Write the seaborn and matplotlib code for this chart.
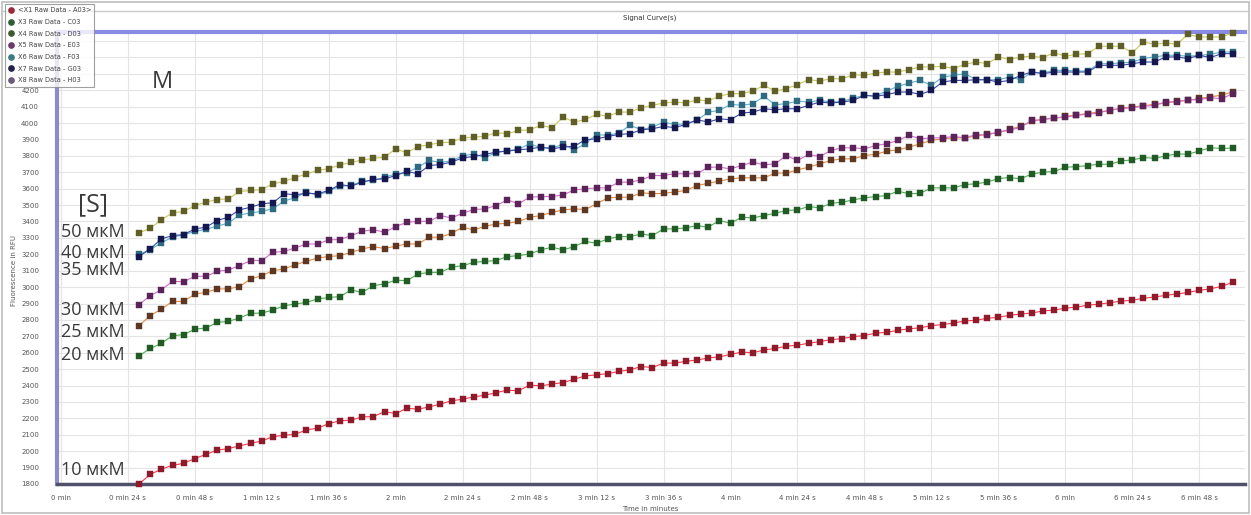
import numpy as np
import pandas as pd
import matplotlib
matplotlib.use("Agg")
import matplotlib.pyplot as plt
from matplotlib.lines import Line2D
from matplotlib.patches import Rectangle
import seaborn as sns

# ---------------- data (RFU, one reading every 4 s from 28 s) ----------------
start_s = 28
step_s = 4

conc_labels = ["10 мкМ", "20 мкМ", "25 мкМ", "30 мкМ", "35 мкМ", "40 мкМ", "50 мкМ"]
legend_labels = ["<X1 Raw Data - A03>", "X3 Raw Data - C03", "X4 Raw Data - D03",
                 "X5 Raw Data - E03", "X6 Raw Data - F03", "X7 Raw Data - G03",
                 "X8 Raw Data - H03"]

s10 = [1800, 1859, 1890, 1914, 1926, 1955, 1981, 2006, 2016, 2032, 2048, 2062, 2089, 2097, 2103, 2130,
       2140, 2168, 2185, 2189, 2209, 2211, 2241, 2229,
       2262, 2256, 2270, 2287, 2307, 2317, 2331, 2341, 2357, 2372, 2368, 2403, 2398, 2409, 2418, 2439,
       2459, 2465, 2473, 2486, 2496, 2516, 2510, 2537, 2537,
       2548, 2556, 2568, 2575, 2590, 2604, 2600, 2617, 2626, 2640,
       2646, 2658, 2668, 2680, 2686, 2698, 2705, 2720, 2724, 2737,
       2746, 2752, 2765, 2772, 2781, 2794, 2798, 2810, 2816, 2828,
       2836, 2842, 2855, 2860, 2872, 2878, 2890, 2896, 2905, 2915,
       2920, 2932, 2940, 2950, 2958, 2968, 2980, 2990, 3004, 3030]

s20 = [2581, 2626, 2657, 2704, 2710, 2744, 2751, 2785, 2791, 2812, 2840, 2842, 2860, 2887, 2897, 2907,
       2928, 2937, 2942, 2983, 2968, 3009, 3019, 3043,
       3039, 3080, 3090, 3090, 3121, 3131, 3151, 3157, 3162, 3186, 3192, 3202, 3227, 3243, 3227, 3247,
       3279, 3267, 3294, 3308, 3308, 3324, 3314, 3355, 3355,
       3361, 3375, 3365, 3406, 3389, 3426, 3422, 3436, 3450, 3467, 3471, 3491, 3483, 3511, 3518, 3532,
       3544, 3552, 3558, 3585, 3569, 3572, 3605, 3605, 3605, 3625,
       3630, 3640, 3662, 3668, 3660, 3690, 3700, 3705, 3730, 3735, 3740, 3750, 3748, 3770, 3775, 3790,
       3785, 3800, 3812, 3810, 3830, 3850, 3845, 3848]

s25 = [2765, 2826, 2866, 2913, 2913, 2958, 2968, 2989, 2989, 3003, 3050, 3070, 3100, 3111, 3137, 3157,
       3178, 3186, 3192, 3212, 3233, 3247,
       3235, 3250, 3263, 3263, 3304, 3304, 3328, 3365, 3349, 3371, 3385, 3389, 3400, 3426, 3436, 3456,
       3471, 3477, 3473, 3508, 3544, 3548, 3548, 3575, 3569, 3572, 3580,
       3589, 3619, 3633, 3646, 3660, 3666, 3666, 3666, 3695, 3695, 3715, 3731, 3752, 3772, 3782, 3782,
       3802, 3809, 3829, 3837, 3853, 3874, 3894, 3904, 3910, 3910,
       3920, 3935, 3940, 3962, 3980,
       4010, 4025, 4028, 4040, 4050, 4058, 4068, 4075, 4092, 4098, 4105, 4115, 4122, 4135, 4138, 4150,
       4160, 4170, 4190]

s30 = [2893, 2948, 2984, 3035, 3033, 3066, 3066, 3096, 3105, 3131, 3162, 3162, 3212, 3218, 3239, 3263,
       3263, 3288, 3290, 3314, 3340, 3351,
       3334, 3369, 3395, 3401, 3401, 3436, 3422, 3450, 3473, 3477, 3497, 3532, 3508, 3548, 3552, 3552,
       3562, 3593, 3599, 3605, 3605, 3640, 3640, 3654, 3680, 3680, 3691,
       3691, 3691, 3731, 3731, 3721, 3741, 3762, 3745, 3752, 3802, 3772, 3809, 3796, 3833, 3849, 3849,
       3843, 3863, 3874, 3894, 3925, 3904, 3910, 3910, 3918, 3910,
       3930, 3925, 3948, 3955, 3975,
       4016, 4020, 4032, 4036, 4047, 4053, 4061, 4081, 4087, 4094, 4102, 4108, 4128, 4128, 4142, 4142,
       4155, 4148, 4180]

s35 = [3200, 3228, 3270, 3305, 3318, 3340, 3352, 3372, 3390, 3440, 3452, 3462, 3478, 3525, 3545, 3580,
       3560, 3585, 3615, 3620, 3645, 3650,
       3670, 3690, 3698, 3731, 3772, 3760, 3770, 3800, 3812, 3790, 3820, 3832, 3840, 3874, 3850, 3848,
       3870, 3837, 3875, 3930, 3925, 3940, 3986, 3960, 3975, 4006, 3990,
       3996, 4016, 4067, 4077, 4114, 4108, 4118, 4163, 4112, 4118, 4134, 4128, 4138, 4128, 4132, 4152,
       4169, 4165, 4195,
       4224, 4244, 4260, 4230, 4280, 4291, 4301, 4264, 4264, 4264, 4280, 4264, 4311, 4305, 4321, 4321,
       4317, 4317, 4362, 4362, 4366, 4372, 4393, 4403, 4413, 4413, 4407, 4413, 4419, 4433, 4433]

s40 = [3186, 3233, 3294, 3314, 3320, 3355, 3365, 3406, 3426, 3471, 3487, 3508, 3514, 3569, 3563, 3572,
       3569, 3589, 3625, 3615, 3640, 3656,
       3660, 3680, 3705, 3691, 3741, 3747, 3762, 3788, 3796, 3809, 3823, 3829, 3837, 3843, 3853, 3843,
       3853, 3859, 3898, 3904, 3918, 3931, 3935, 3959, 3965, 3980, 3972,
       3992, 4020, 4006, 4026, 4020, 4061, 4067, 4087, 4081, 4087, 4087, 4108, 4128, 4122, 4128, 4138,
       4169, 4163, 4173,
       4189, 4189, 4175, 4199, 4250, 4260, 4260, 4264, 4264, 4250, 4260, 4291, 4311, 4301, 4311, 4311,
       4311, 4311, 4352, 4352, 4352, 4362, 4372, 4372, 4403, 4403, 4393, 4413, 4399, 4423, 4423]

s50 = [3330, 3359, 3410, 3453, 3461, 3497, 3518, 3534, 3538, 3583, 3589, 3595, 3630, 3644,
       3668, 3690, 3712, 3722, 3745, 3760, 3775, 3785,
       3792, 3843, 3819, 3857, 3868, 3880, 3884, 3910, 3914, 3920, 3941, 3935, 3955, 3959, 3986, 3972,
       4036, 4006, 4022, 4053, 4041, 4067, 4067, 4094, 4108, 4122, 4128,
       4122, 4142, 4134, 4165, 4179, 4179, 4195, 4230, 4195, 4210, 4234, 4265, 4256, 4270, 4270, 4295,
       4291, 4305, 4311,
       4311, 4326, 4342, 4342, 4346, 4332, 4358, 4372, 4362, 4403, 4387, 4403, 4407, 4399, 4429, 4407,
       4419, 4423, 4468, 4468, 4468, 4429, 4494, 4480, 4488, 4480, 4541, 4525, 4525, 4525, 4549]

series = [s10, s20, s25, s30, s35, s40, s50]

# x tick labels (every 24 s)
xtick_labels = ["0 min", "0 min 24 s", "0 min 48 s", "1 min 12 s", "1 min 36 s", "2 min",
                "2 min 24 s", "2 min 48 s", "3 min 12 s", "3 min 36 s", "4 min", "4 min 24 s",
                "4 min 48 s", "5 min 12 s", "5 min 36 s", "6 min", "6 min 24 s", "6 min 48 s"]
ytick_values = list(range(1800, 4600, 100))
ytick_labels = [str(v) if v <= 4200 else "" for v in ytick_values]  # upper ones sit under the legend

# ---------------- styles ----------------
line_colors = ["#ff3b4a", "#4caf50", "#e88a3c", "#d46ad0", "#5fb3d0", "#3a4aa8", "#c9c85a"]
marker_colors = ["#8e1b2c", "#215a24", "#5e3624", "#5a2458", "#2f6a80", "#14184e", "#5f5e28"]
legend_marker_colors = ["#9a2a3a", "#2f5e34", "#3e5a2c", "#6a3a6a", "#3a7a80", "#20204a", "#6a5a7a"]

W, H = 1251, 515
fig = plt.figure(figsize=(W / 100, H / 100), dpi=100)
sns.set_style("white")
plt.rcParams['font.family'] = ['DejaVu Sans']

ax_l, ax_r, ax_t, ax_b = 57, 1245, 32, 484
ax = fig.add_axes([ax_l / W, 1 - ax_b / H, (ax_r - ax_l) / W, (ax_b - ax_t) / H])

rows = []
for name, vals in zip(conc_labels, series):
    for i, v in enumerate(vals):
        rows.append({"conc": name, "t": start_s + step_s * i, "rfu": v})
df = pd.DataFrame(rows)

for k, name in enumerate(conc_labels):
    sub = df[df["conc"] == name]
    sns.lineplot(data=sub, x="t", y="rfu", ax=ax, color=line_colors[k], linewidth=0.8,
                 marker="s", markersize=3.8, markerfacecolor=marker_colors[k],
                 markeredgecolor=marker_colors[k], markeredgewidth=0.3, clip_on=False,
                 legend=False, zorder=3 + k)

ax.set_xlim(-1.4, 424.4)
ax.set_ylim(1800, 4555)
xt = [24 * j for j in range(len(xtick_labels))]
ax.set_xticks(xt)
ax.set_xticklabels(xtick_labels, fontsize=5, color="#555555")
ax.set_yticks(ytick_values)
ax.set_yticklabels(ytick_labels, fontsize=5, color="#555555")
ax.tick_params(axis="x", length=0, pad=8)
ax.tick_params(axis="y", length=3, color="#888888", pad=10)
ax.grid(True, color="#e4e4e4", linewidth=0.8)
ax.set_axisbelow(True)
ax.set_xlabel("")
ax.set_ylabel("")

ax.spines["right"].set_visible(False)
ax.spines["left"].set_color("#8c8cc8")
ax.spines["left"].set_linewidth(3)
ax.spines["bottom"].set_color("#50506a")
ax.spines["bottom"].set_linewidth(2.5)
ax.spines["top"].set_color("#8a8ae6")
ax.spines["top"].set_linewidth(3)

# annotations (concentrations)
def px(x, y):
    return x / W, 1 - y / H

txt_kw = dict(fontsize=13, color="#3a3a3a", va="center", ha="left", family=["Open Sans", "DejaVu Sans"])
for lab, ypix in zip(["50 мкМ", "40 мкМ", "35 мкМ", "30 мкМ", "25 мкМ", "20 мкМ", "10 мкМ"],
                     [232, 253, 270, 310, 332, 355, 470]):
    fig.text(*px(61, ypix), lab, **txt_kw)
fig.text(*px(78, 205), "[S]", fontsize=18, color="#3a3a3a", va="center", ha="left",
         family=["Open Sans", "DejaVu Sans"])
fig.text(*px(152, 82), "M", fontsize=17, color="#3a3a3a", va="center", ha="left",
         family=["Open Sans", "DejaVu Sans"])

# title, axis labels
fig.text(*px(650, 18), "Signal Curve(s)", fontsize=5, color="#333333", ha="center", va="center")
fig.text(*px(650, 509), "Time in minutes", fontsize=5, color="#555555", ha="center", va="center")
fig.text(*px(14, 270), "Fluorescence in RFU", fontsize=5, color="#555555", ha="center",
         va="center", rotation=90)

# outer frame lines
fig.add_artist(Rectangle((2 / W, 2 / H), 1 - 4 / W, 1 - 4 / H, transform=fig.transFigure,
                         fill=False, edgecolor="#bdbdbd", linewidth=1.2))
fig.add_artist(Line2D([2 / W, 1 - 2 / W], [1 - 11 / H, 1 - 11 / H], transform=fig.transFigure,
                      color="#c8c8c8", linewidth=1))

# legend
handles = [Line2D([0], [0], marker="o", linestyle="none", markersize=3.8,
                  markerfacecolor=c, markeredgecolor=c) for c in legend_marker_colors]
leg = fig.legend(handles, legend_labels, loc="upper left", bbox_to_anchor=(5 / W, 1 - 4 / H),
                 fontsize=4.8, frameon=True, fancybox=False, edgecolor="#888888",
                 handlelength=0.8, handletextpad=0.6, labelspacing=0.85, borderpad=0.5,
                 borderaxespad=0)
leg.get_frame().set_linewidth(0.8)
leg.set_zorder(20)
for t in leg.get_texts():
    t.set_color("#444444")

fig.savefig("out.png", dpi=100, facecolor="white")
